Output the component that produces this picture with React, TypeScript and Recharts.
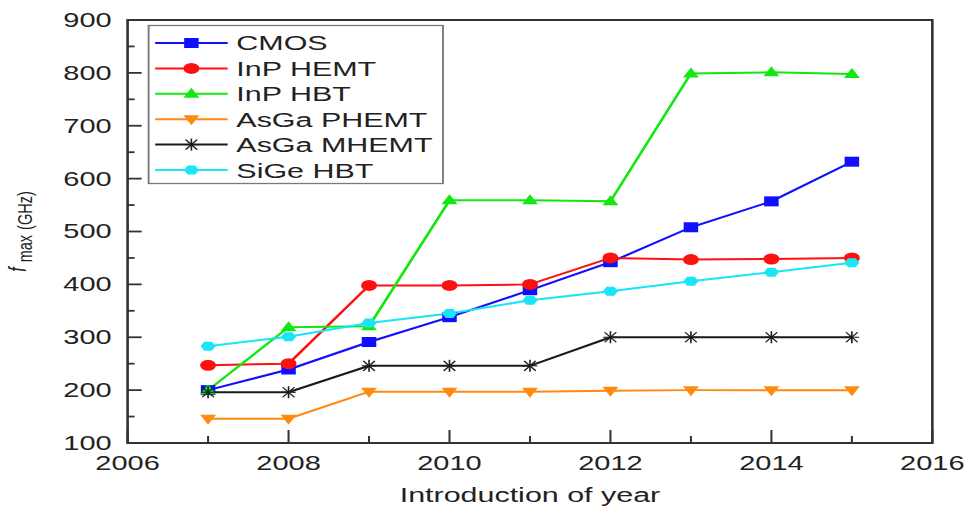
import React from 'react';
import { LineChart, Line, XAxis, YAxis, Legend, ReferenceArea } from 'recharts';

// Introduction year of each device generation
const years = [2007, 2008, 2009, 2010, 2011, 2012, 2013, 2014, 2015];

// fmax (GHz) per technology
const cmos = [200, 239, 291, 338, 389, 442, 508, 557, 632];
const inpHemt = [247, 250, 398, 398, 400, 450, 447, 448, 450];
const inpHbt = [200, 319, 321, 559, 559, 557, 799, 801, 798];
const asgaPhemt = [146, 146, 197, 197, 197, 199, 200, 200, 200];
const asgaMhemt = [196, 196, 246, 246, 246, 300, 300, 300, 300];
const sigeHbt = [283, 301, 327, 345, 370, 387, 406, 423, 441];

// Axis ticks (labels on even years / hundreds, minor marks in between)
const yearTicks = [2006, 2007, 2008, 2009, 2010, 2011, 2012, 2013, 2014, 2015, 2016];
const valueTicks = [100, 150, 200, 250, 300, 350, 400, 450, 500, 550, 600, 650, 700, 750, 800, 850, 900];

const seriesNames = ['CMOS', 'InP HEMT', 'InP HBT', 'AsGa PHEMT', 'AsGa MHEMT', 'SiGe HBT'];
const seriesKeys = ['cmos', 'inpHemt', 'inpHbt', 'asgaPhemt', 'asgaMhemt', 'sigeHbt'];
const seriesValues = [cmos, inpHemt, inpHbt, asgaPhemt, asgaMhemt, sigeHbt];
const seriesColors = ['#1010ff', '#ff1010', '#10e810', '#ff8a10', '#1a1a1a', '#18e6f6'];
const seriesMarkers = ['square', 'circle', 'triangle', 'triangleDown', 'star', 'hexagon'];

const data = years.map((year, i) => {
  const row: Record<string, number> = { year };
  seriesKeys.forEach((k, s) => {
    row[k] = seriesValues[s][i];
  });
  return row;
});

const FONT = '"Liberation Sans", Arial, Helvetica, sans-serif';
const TEXT = '#222';
const AXIS = '#333';

function Marker({ kind, cx, cy, color }: { kind: string; cx: number; cy: number; color: string }) {
  if (cx == null || cy == null || isNaN(cx) || isNaN(cy)) return null;
  switch (kind) {
    case 'square':
      return <rect x={cx - 5} y={cy - 5} width={10} height={10} fill={color} />;
    case 'circle':
      return <circle cx={cx} cy={cy} r={5.5} fill={color} />;
    case 'triangle':
      return <polygon points={`${cx},${cy - 6} ${cx + 5.5},${cy + 4} ${cx - 5.5},${cy + 4}`} fill={color} />;
    case 'triangleDown':
      return <polygon points={`${cx - 5.5},${cy - 4} ${cx + 5.5},${cy - 4} ${cx},${cy + 6}`} fill={color} />;
    case 'star':
      return (
        <g stroke={color} strokeWidth={1.1}>
          <line x1={cx - 5} x2={cx + 5} y1={cy} y2={cy} />
          <line x1={cx} x2={cx} y1={cy - 6} y2={cy + 6} />
          <line x1={cx - 4} x2={cx + 4} y1={cy - 5} y2={cy + 5} />
          <line x1={cx - 4} x2={cx + 4} y1={cy + 5} y2={cy - 5} />
        </g>
      );
    case 'hexagon': {
      const r = 5.2;
      const pts = [0, 60, 120, 180, 240, 300]
        .map((a) => {
          const t = (a * Math.PI) / 180;
          return `${cx + r * Math.cos(t)},${cy + r * Math.sin(t)}`;
        })
        .join(' ');
      return <polygon points={pts} fill={color} />;
    }
    default:
      return null;
  }
}

const XTick = (props: any) => {
  const { x, y, payload } = props;
  const v = payload.value as number;
  const major = v % 2 === 0;
  return (
    <g>
      <line x1={x} x2={x} y1={y} y2={y - (major ? 13 : 7)} stroke={AXIS} strokeWidth={1.4} />
      {major && (
        <text x={x} y={y + 27} textAnchor="middle" fontSize={20} fill={TEXT} fontFamily={FONT}>
          {v}
        </text>
      )}
    </g>
  );
};

const YTick = (props: any) => {
  const { x, y, payload } = props;
  const v = payload.value as number;
  const major = v % 100 === 0;
  return (
    <g>
      <line x1={x} x2={x + (major ? 9.7 : 4.8)} y1={y} y2={y} stroke={AXIS} strokeWidth={1.8} />
      {major && (
        <text x={x - 11} y={y + 7} textAnchor="end" fontSize={20} fill={TEXT} fontFamily={FONT}>
          {v}
        </text>
      )}
    </g>
  );
};

const YLabel = (props: any) => {
  const vb = props.viewBox || {};
  const cx = 18;
  const cy = (vb.y ?? 20) + (vb.height ?? 423) / 2;
  return (
    <text
      transform={`translate(${cx},${cy}) rotate(-90)`}
      textAnchor="middle"
      fill={TEXT}
      fontFamily={FONT}
      fontSize={14.5}
    >
      <tspan fontStyle="italic" fontSize={16}>f</tspan>
      <tspan dx={5} dy={4}>max</tspan>
      <tspan dx={5}>(GHz)</tspan>
    </text>
  );
};

const XLabel = (props: any) => {
  const vb = props.viewBox || {};
  const cx = (vb.x ?? 88) + (vb.width ?? 555) / 2;
  const y = (vb.y ?? 443) + 59;
  return (
    <text x={cx} y={y} textAnchor="middle" fill={TEXT} fontFamily={FONT} fontSize={21}>
      Introduction of year
    </text>
  );
};

const LegendBox = (props: any) => {
  const payload: any[] = props.payload || [];
  // keep the entries in series order
  const ordered = seriesKeys
    .map((k) => payload.find((p) => p.dataKey === k))
    .filter(Boolean);
  return (
    <svg width={204} height={159} style={{ display: 'block', overflow: 'visible' }}>
      <rect x={0.5} y={0.5} width={203} height={158} fill="#fff" stroke="#7a7a7a" strokeWidth={1.3} />
      {ordered.map((p: any, i: number) => {
        const idx = seriesKeys.indexOf(p.dataKey);
        const color = p.color || seriesColors[idx];
        const cy = 18 + i * 25.4;
        return (
          <g key={p.dataKey}>
            <line x1={5} x2={55} y1={cy} y2={cy} stroke={color} strokeWidth={2} />
            <Marker kind={seriesMarkers[idx]} cx={30} cy={cy} color={color} />
            <text x={61} y={cy + 7.5} fontSize={21} fill={TEXT} fontFamily={FONT}>
              {p.value}
            </text>
          </g>
        );
      })}
    </svg>
  );
};

export default function App() {
  return (
    <div
      style={{
        position: 'absolute',
        left: 0,
        top: 0,
        width: 668,
        height: 512,
        background: '#fff',
        transform: 'scaleX(1.45)',
        transformOrigin: '0 0',
        fontFamily: FONT,
      }}
    >
      <LineChart width={668} height={512} data={data} margin={{ top: 20, right: 25, bottom: 0, left: 28 }}>
        <XAxis
          dataKey="year"
          type="number"
          domain={[2006, 2016]}
          ticks={yearTicks}
          interval={0}
          height={69}
          axisLine={false}
          tickLine={false}
          tickSize={0}
          tickMargin={0}
          tick={<XTick />}
          label={<XLabel />}
        />
        <YAxis
          type="number"
          domain={[100, 900]}
          ticks={valueTicks}
          interval={0}
          width={60}
          axisLine={false}
          tickLine={false}
          tickSize={0}
          tickMargin={0}
          tick={<YTick />}
          label={<YLabel />}
        />
        <ReferenceArea
          x1={2006}
          x2={2016}
          y1={100}
          y2={900}
          fill="none"
          fillOpacity={0}
          stroke={AXIS}
          strokeWidth={1.8}
        />
        {seriesKeys.map((k, s) => (
          <Line
            key={k}
            dataKey={k}
            name={seriesNames[s]}
            type="linear"
            stroke={seriesColors[s]}
            strokeWidth={2}
            isAnimationActive={false}
            activeDot={false}
            dot={(dp: any) => (
              <Marker key={`${k}-${dp.index}`} kind={seriesMarkers[s]} cx={dp.cx} cy={dp.cy} color={seriesColors[s]} />
            )}
          />
        ))}
        <Legend
          layout="vertical"
          align="center"
          verticalAlign="middle"
          content={<LegendBox />}
          wrapperStyle={{ left: 102, top: 25, width: 204, height: 159 }}
        />
      </LineChart>
    </div>
  );
}
